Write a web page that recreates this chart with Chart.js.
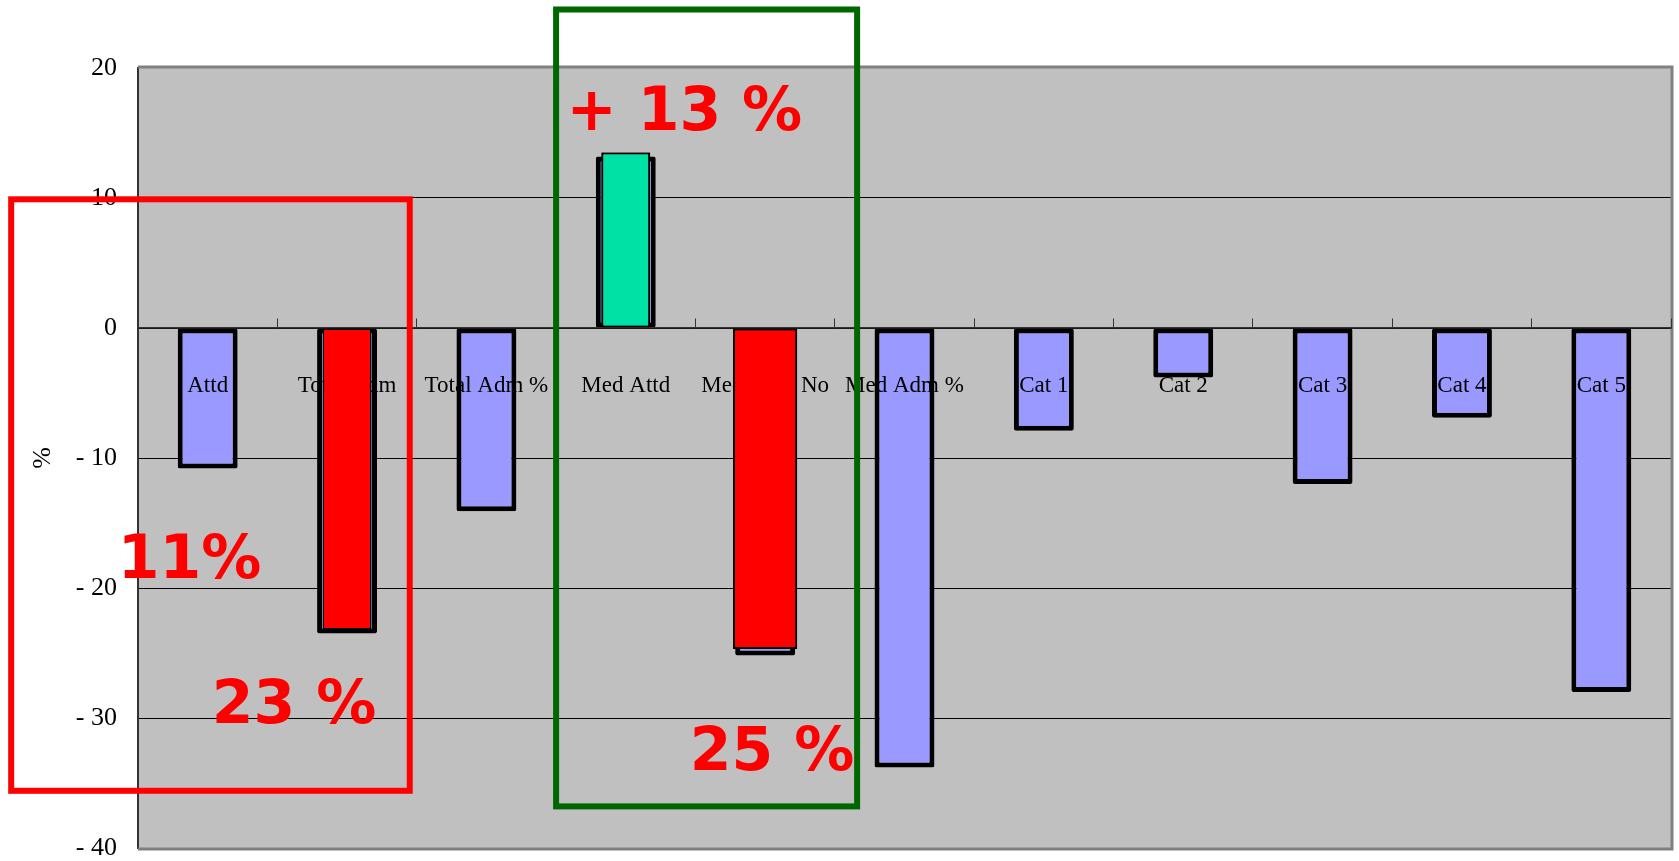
<!DOCTYPE html>
<html>
<head>
<meta charset="utf-8">
<script src="https://cdn.jsdelivr.net/npm/chart.js@4"></script>
<style>
html, body { margin: 0; padding: 0; background: #fff; }
canvas { display: block; }
</style>
</head>
<body>
<canvas id="chart1" width="1679" height="861"></canvas>
<script>
'use strict'

const CATEGORIES = ['Attd', 'Total Adm', 'Total Adm %', 'Med Attd', 'Med Adm No', 'Med Adm %', 'Cat 1', 'Cat 2', 'Cat 3', 'Cat 4', 'Cat 5']
const CHANGE_PCT = [-10.8, -23.5, -14.1, 13.2, -25.2, -33.8, -7.9, -3.8, -12.0, -6.9, -28.0]

// hand-drawn highlight bars laid over the original ones
const TOTAL_ADM_MARK = [null, -23.2, null, null, null, null, null, null, null, null, null]
const MED_NO_MARK = [null, null, null, null, -24.7, null, null, null, null, null, null]
const MED_ATTD_MARK = [null, null, null, 13.5, null, null, null, null, null, null, null]

const Y_TICKS = [20, 10, 0, -10, -20, -30, -40]

// annotation frames and callouts, in category index / value units
const BOXES = [
	{ x0: -1.41, x1: 1.45, y0: 9.9, y1: -35.6, color: '#ff0000' },
	{ x0: 2.5, x1: 4.66, y0: 24.5, y1: -36.8, color: '#006600' }
]
const CALLOUTS = [
	{ text: '+ 13 %', x: 3.42, y: 16.9 },
	{ text: '11%', x: -0.13, y: -17.5 },
	{ text: '23 %', x: 0.62, y: -28.7 },
	{ text: '25 %', x: 4.05, y: -32.3 }
]

const SERIF = '"Liberation Serif", "DejaVu Serif", serif'

const plotFrame = {
	id: 'plotFrame',
	beforeDraw(chart) {
		const { ctx, chartArea: a } = chart
		ctx.save()
		ctx.fillStyle = '#c0c0c0'
		ctx.fillRect(a.left, a.top, a.right - a.left, a.bottom - a.top)
		ctx.restore()
	},
	beforeDatasetsDraw(chart) {
		const { ctx, chartArea: a } = chart
		ctx.save()
		ctx.strokeStyle = '#808080'
		ctx.lineWidth = 3
		ctx.beginPath()
		ctx.moveTo(a.left, a.top - 1)
		ctx.lineTo(a.right + 1, a.top - 1)
		ctx.lineTo(a.right + 1, a.bottom + 1)
		ctx.lineTo(a.left, a.bottom + 1)
		ctx.stroke()
		ctx.restore()
	}
}

const markup = {
	id: 'markup',
	afterDraw(chart) {
		const { ctx } = chart
		const xs = chart.scales.x
		const ys = chart.scales.y

		// highlight bars sit above the category labels
		chart.data.datasets.forEach((ds, i) => {
			if (ds.overlay) chart.getDatasetMeta(i).controller.draw()
		})

		ctx.save()
		ctx.lineWidth = 6
		BOXES.forEach(b => {
			const x0 = xs.getPixelForValue(b.x0)
			const x1 = xs.getPixelForValue(b.x1)
			const y0 = ys.getPixelForValue(b.y0)
			const y1 = ys.getPixelForValue(b.y1)
			ctx.strokeStyle = b.color
			ctx.strokeRect(x0, y0, x1 - x0, y1 - y0)
		})

		ctx.fillStyle = '#ff0000'
		ctx.font = 'bold 60px "DejaVu Sans", sans-serif'
		ctx.textAlign = 'center'
		ctx.textBaseline = 'alphabetic'
		CALLOUTS.forEach(c => {
			ctx.fillText(c.text, xs.getPixelForValue(c.x), ys.getPixelForValue(c.y) + 22)
		})
		ctx.restore()
	}
}

const ctx = document.getElementById('chart1').getContext('2d')
const changeChart = new Chart(ctx, {
	type: 'bar',
	data: {
		labels: CATEGORIES,
		datasets: [
			{
				label: 'Change',
				data: CHANGE_PCT,
				backgroundColor: '#9999ff',
				borderColor: '#000000',
				borderWidth: 5,
				borderSkipped: false,
				borderRadius: 2,
				barPercentage: 0.43,
				categoryPercentage: 1,
				grouped: false,
				order: 2
			},
			{
				label: 'Total Adm mark',
				data: TOTAL_ADM_MARK,
				overlay: true,
				backgroundColor: '#ff0000',
				borderColor: '#000000',
				borderWidth: 1.5,
				borderSkipped: false,
				barPercentage: 0.35,
				categoryPercentage: 1,
				grouped: false,
				order: 1
			},
			{
				label: 'Med Adm No mark',
				data: MED_NO_MARK,
				overlay: true,
				backgroundColor: '#ff0000',
				borderColor: '#000000',
				borderWidth: 2,
				borderSkipped: false,
				barPercentage: 0.46,
				categoryPercentage: 1,
				grouped: false,
				order: 1
			},
			{
				label: 'Med Attd mark',
				data: MED_ATTD_MARK,
				overlay: true,
				backgroundColor: '#00e1a6',
				borderColor: '#000000',
				borderWidth: 2,
				borderSkipped: false,
				barPercentage: 0.35,
				categoryPercentage: 1,
				grouped: false,
				order: 1
			}
		]
	},
	options: {
		responsive: false,
		animation: false,
		layout: {
			padding: { left: 0, top: 68, right: 8, bottom: 13 }
		},
		plugins: {
			legend: { display: false },
			tooltip: { enabled: false }
		},
		scales: {
			x: {
				position: { y: 0 },
				offset: true,
				afterFit(scale) {
					// the axis floats at zero, it should not take room at the bottom
					scale.height = 0
					scale.paddingLeft = 0
					scale.paddingRight = 0
					scale.paddingTop = 0
					scale.paddingBottom = 0
				},
				grid: {
					offset: true,
					drawOnChartArea: false,
					drawTicks: true,
					tickLength: -10,
					color: '#333333',
					lineWidth: 1,
					z: 1
				},
				border: { color: '#333333', width: 1.5, z: 1 },
				ticks: {
					z: 1,
					padding: 54,
					maxRotation: 0,
					autoSkip: false,
					color: '#000000',
					font: { family: SERIF, size: 23 }
				}
			},
			y: {
				min: Y_TICKS[Y_TICKS.length - 1],
				max: Y_TICKS[0],
				afterBuildTicks(scale) {
					scale.ticks = Y_TICKS.map(v => ({ value: v }))
				},
				afterFit(scale) {
					scale.width = 138
					scale.paddingTop = 0
					scale.paddingBottom = 0
				},
				grid: {
					drawTicks: false,
					color: c => (c.tick.value === 20 || c.tick.value === -40) ? 'rgba(0,0,0,0)' : '#000000',
					lineWidth: 1
				},
				border: { color: '#333333', width: 2 },
				title: {
					display: true,
					text: '%',
					color: '#000000',
					padding: { top: 28, bottom: 0 },
					font: { family: SERIF, size: 26 }
				},
				ticks: {
					padding: 21,
					color: '#000000',
					font: { family: SERIF, size: 26 },
					callback: v => v < 0 ? '- ' + Math.abs(v) : String(v)
				}
			}
		}
	},
	plugins: [plotFrame, markup]
})
</script>
</body>
</html>
